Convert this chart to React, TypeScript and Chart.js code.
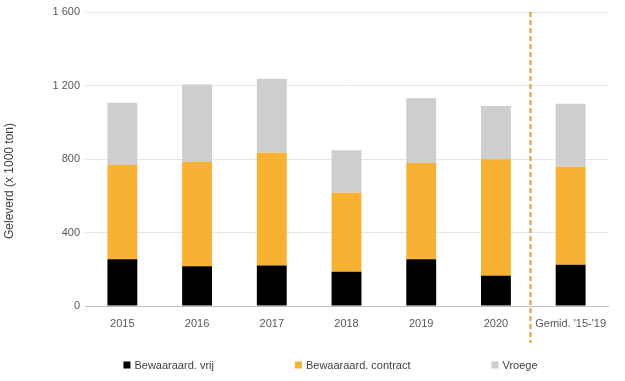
import React, { useEffect, useRef } from "react";
import { Chart, registerables } from "chart.js";

Chart.register(...registerables);

const categories = ["2015", "2016", "2017", "2018", "2019", "2020", "Gemid. '15-'19"];
const vrij = [254, 216, 221, 187, 254, 165, 225];
const contract = [513, 567, 613, 430, 524, 633, 533];
const vroege = [339, 423, 403, 230, 352, 290, 343];
const yTicks = [0, 400, 800, 1200, 1600];
const seriesLabels = ["Bewaaraard. vrij", "Bewaaraard. contract", "Vroege"];
const seriesColors = ["#000000", "#F8B133", "#CFCDCD"];
const yTitle = "Geleverd (x 1000 ton)";
const dividerAt = 5.45;

const FONT = "'Liberation Sans', Arial, sans-serif";

const dividerPlugin = {
  id: "divider",
  afterDatasetsDraw(chart: any) {
    const { ctx, scales, chartArea } = chart;
    const x = Math.round(scales.x.getPixelForValue(dividerAt)) + 0.5;
    ctx.save();
    ctx.strokeStyle = "#E59C2F";
    ctx.lineWidth = 2;
    ctx.setLineDash([5, 3]);
    ctx.beginPath();
    ctx.moveTo(x, chartArea.top);
    ctx.lineTo(x, chartArea.bottom + 37);
    ctx.stroke();
    ctx.restore();
  },
};

const titleLegendPlugin = {
  id: "titleLegend",
  afterDraw(chart: any) {
    const { ctx } = chart;
    ctx.save();
    // y axis title
    ctx.font = `12px ${FONT}`;
    ctx.fillStyle = "#404040";
    ctx.textAlign = "center";
    ctx.textBaseline = "middle";
    ctx.translate(10, 181);
    ctx.rotate(-Math.PI / 2);
    ctx.fillText(yTitle, 0, 0);
    ctx.restore();

    ctx.save();
    ctx.font = `11px ${FONT}`;
    const box = 7;
    const gapText = 4;
    const gapItem = 81;
    const items = chart.data.datasets.map((d: any) => ({
      label: d.label,
      color: d.backgroundColor,
      w: box + gapText + ctx.measureText(d.label).width,
    }));
    const total = items.reduce((s: number, it: any) => s + it.w, 0) + gapItem * (items.length - 1);
    const cx = chart.width / 2 + 18;
    let x = cx - total / 2;
    const y = 365;
    items.forEach((it: any) => {
      ctx.fillStyle = it.color;
      ctx.fillRect(x, y - box / 2, box, box);
      ctx.fillStyle = "#404040";
      ctx.textBaseline = "middle";
      ctx.textAlign = "left";
      ctx.fillText(it.label, x + box + gapText, y + 0.5);
      x += it.w + gapItem;
    });
    ctx.restore();
  },
};

export default function App() {
  const ref = useRef<HTMLCanvasElement>(null);
  useEffect(() => {
    if (!ref.current) return;
    const chart = new Chart(ref.current, {
      type: "bar",
      data: {
        labels: categories,
        datasets: [
          { label: seriesLabels[0], data: vrij, backgroundColor: seriesColors[0] },
          { label: seriesLabels[1], data: contract, backgroundColor: seriesColors[1] },
          { label: seriesLabels[2], data: vroege, backgroundColor: seriesColors[2] },
        ],
      },
      options: {
        animation: false,
        responsive: false,
        maintainAspectRatio: false,
        layout: { padding: { top: 12, right: 17, bottom: 45, left: 0 } },
        datasets: { bar: { barPercentage: 0.4, categoryPercentage: 1 } },
        plugins: {
          legend: { display: false },
          tooltip: { enabled: false },
        },
        scales: {
          x: {
            stacked: true,
            grid: { display: false, drawTicks: false },
            border: { display: true, color: "#BFBFBF", width: 1 },
            ticks: { color: "#595959", font: { family: FONT, size: 11 }, padding: 11, maxRotation: 0 },
            afterFit(scale: any) {
              scale.height = 30;
            },
          },
          y: {
            stacked: true,
            min: 0,
            max: 1600,
            afterBuildTicks(scale: any) {
              scale.ticks = yTicks.map((v) => ({ value: v }));
            },
            grid: { color: "#E6E6E6", drawTicks: false },
            border: { display: false },
            ticks: {
              color: "#595959",
              font: { family: FONT, size: 11 },
              padding: 5,
              callback: (v: any) => String(v).replace(/\B(?=(\d{3})+(?!\d))/g, " "),
            },
            afterFit(scale: any) {
              scale.width = 85;
            },
          },
        },
      },
      plugins: [dividerPlugin, titleLegendPlugin],
    });
    return () => chart.destroy();
  }, []);
  return (
    <div style={{ position: "fixed", left: 0, top: 0, width: 625, height: 381, background: "#fff" }}>
      <canvas ref={ref} width={625} height={381} />
    </div>
  );
}
